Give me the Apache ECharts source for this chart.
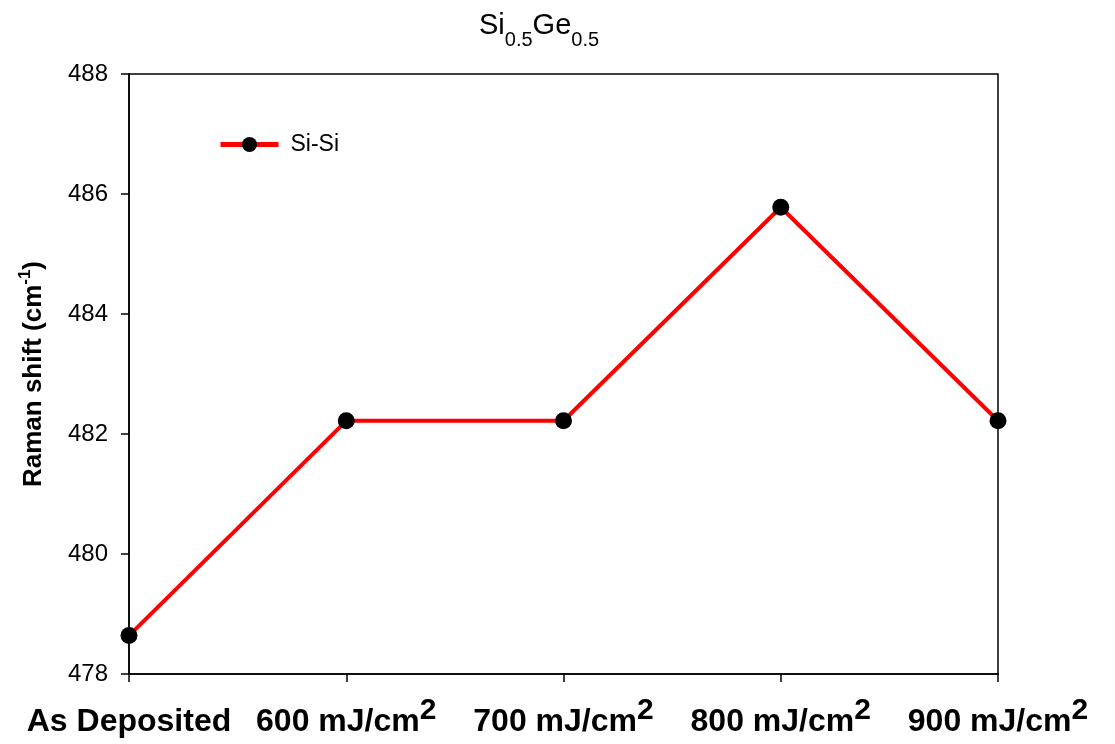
<!DOCTYPE html>
<html>
<head>
<meta charset="utf-8">
<script src="https://cdn.jsdelivr.net/npm/echarts@6/dist/echarts.min.js"></script>
<style>html,body{margin:0;padding:0;background:#fff}#chart{width:1115px;height:744px}</style>
</head>
<body>
<div id="chart"></div>
<script>
const categories = ['As Deposited', '600 mJ/cm2', '700 mJ/cm2', '800 mJ/cm2', '900 mJ/cm2'];
const siSiValues = [478.64, 482.22, 482.22, 485.78, 482.22];
const yTicks = [478, 480, 482, 484, 486, 488];
const seriesName = 'Si-Si';

const FONT = '"Liberation Sans", Arial, Helvetica, sans-serif';
const chart = echarts.init(document.getElementById('chart'));
chart.setOption({
  animation: false,
  backgroundColor: '#fff',
  title: {
    text: '{a|Si}{b|0.5}{a|Ge}{b|0.5}',
    left: 479, top: 11, padding: 0,
    textStyle: {
      fontFamily: FONT, fontWeight: 'normal',
      rich: {
        a: {fontFamily: FONT, fontSize: 29, fontWeight: 'normal', lineHeight: 28, verticalAlign: 'top', color: '#000'},
        b: {fontFamily: FONT, fontSize: 20, fontWeight: 'normal', lineHeight: 18, padding: [19, 0, 0, 0], verticalAlign: 'top', color: '#000'}
      }
    }
  },
  legend: {
    data: [seriesName],
    left: 218, top: 133, padding: 0,
    itemWidth: 58, itemHeight: 19,
    lineStyle: {width: 5},
    textStyle: {fontFamily: FONT, fontSize: 23, color: '#000', padding: [0, 0, 0, 7]}
  },
  grid: {
    left: 129, right: 117, top: 74, bottom: 70,
    show: true, borderColor: '#000', borderWidth: 1.5, backgroundColor: 'transparent'
  },
  xAxis: {
    type: 'category',
    data: categories,
    boundaryGap: false,
    axisLine: {lineStyle: {color: '#000', width: 1.5}},
    axisTick: {show: true, length: 8, alignWithLabel: true, interval: 0, lineStyle: {color: '#000', width: 1.5}},
    axisLabel: {
      interval: 0,
      margin: 22,
      hideOverlap: false,
      formatter: function (v) {
        if (/cm2$/.test(v)) return '{b|' + v.slice(0, -1) + '}{s|2}';
        return '{b|' + v + '}';
      },
      rich: {
        b: {fontFamily: FONT, fontSize: 32, fontWeight: 'bold', lineHeight: 32, padding: [10, 0, 0, 0], verticalAlign: 'top', color: '#000'},
        s: {fontFamily: FONT, fontSize: 30, fontWeight: 'bold', lineHeight: 30, verticalAlign: 'top', color: '#000'}
      }
    },
    splitLine: {show: false}
  },
  yAxis: {
    type: 'value',
    min: yTicks[0], max: yTicks[yTicks.length - 1], interval: 2,
    name: '{m|Raman shift (cm}{s|-1}{m|)}',
    nameLocation: 'middle',
    nameGap: 82,
    nameTextStyle: {
      fontFamily: FONT,
      rich: {
        m: {fontFamily: FONT, fontSize: 26, fontWeight: 'bold', lineHeight: 30, verticalAlign: 'bottom', color: '#000'},
        s: {fontFamily: FONT, fontSize: 17, fontWeight: 'bold', lineHeight: 17, verticalAlign: 'top', color: '#000'}
      }
    },
    axisLine: {show: true, lineStyle: {color: '#000', width: 1.5}},
    axisTick: {show: true, length: 8, lineStyle: {color: '#000', width: 1.5}},
    axisLabel: {fontFamily: FONT, fontSize: 24, color: '#000', margin: 21},
    splitLine: {show: false}
  },
  series: [{
    name: seriesName,
    type: 'line',
    data: siSiValues,
    symbol: 'circle',
    symbolSize: 17,
    lineStyle: {color: '#ff0000', width: 4},
    itemStyle: {color: '#000'},
    z: 3
  }]
});
</script>
</body>
</html>
